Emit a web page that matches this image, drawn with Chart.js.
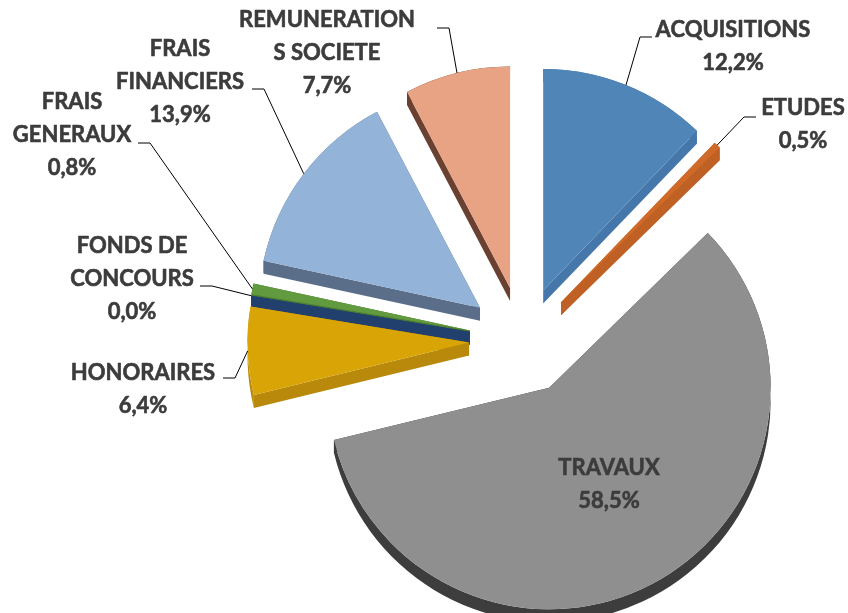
<!DOCTYPE html>
<html>
<head>
<meta charset="utf-8">
<script src="https://cdn.jsdelivr.net/npm/chart.js@4.4.1/dist/chart.umd.min.js"></script>
<style>
  html, body { margin: 0; padding: 0; background: #fff; }
  #chart { display: block; }
</style>
</head>
<body>
<canvas id="chart" width="848" height="613"></canvas>
<script>
// categories, wrapped the way the labels wrap in the picture
var categories = [
    ['ACQUISITIONS'],
    ['ETUDES'],
    ['TRAVAUX'],
    ['HONORAIRES'],
    ['FONDS DE', 'CONCOURS'],
    ['FRAIS', 'GENERAUX'],
    ['FRAIS', 'FINANCIERS'],
    ['REMUNERATION', 'S SOCIETE']
];
// share of total, in %
var values = [12.2, 0.5, 58.5, 6.4, 0.0, 0.8, 13.9, 7.7];
// percentages as printed on the labels
var percentLabels = ['12,2%', '0,5%', '58,5%', '6,4%', '0,0%', '0,8%', '13,9%', '7,7%'];

var topColors = ['#5085b8', '#d06a28', '#8f8f8f', '#d9a506', '#22406e', '#619a3f', '#93b3d8', '#e8a284'];
var sideColors = ['#4677aa', '#bf6024', '#3d3d3d', '#b8890a', '#22406e', '#4c7c30', '#5a6e8a', '#6a4030'];

var explode = 54;   // px each slice is pulled out
var depth = 13;     // px thickness of the 3d pie
var lineH = 33;

// label block centres (first line) and where each leader line leaves the label
var labelPos = [[733, 30], [803, 108], [609, 468], [143, 373], [132, 246], [72, 102], [180, 49], [327, 20]];
var leaderFrom = [[652, 37], [756, 117], null, [223, 378], [200, 286], [138, 143], [252, 89], [437, 28]];

function apexOf(arc) {
    var mid = (arc.startAngle + arc.endAngle) / 2;
    return [arc.x + Math.cos(mid) * explode, arc.y + Math.sin(mid) * explode];
}

function drawWalls(ctx, arc, color) {
    var a = apexOf(arc), r = arc.outerRadius;
    var s = arc.startAngle, e = arc.endAngle;
    ctx.fillStyle = color;
    [s, e].forEach(function(ang) {
        var px = a[0] + Math.cos(ang) * r, py = a[1] + Math.sin(ang) * r;
        ctx.beginPath();
        ctx.moveTo(a[0], a[1]);
        ctx.lineTo(px, py);
        ctx.lineTo(px, py + depth);
        ctx.lineTo(a[0], a[1] + depth);
        ctx.closePath();
        ctx.fill();
    });
    if (e > s) {
        ctx.beginPath();
        ctx.arc(a[0], a[1], r, s, e);
        ctx.arc(a[0], a[1] + depth, r, e, s, true);
        ctx.closePath();
        ctx.fill();
    }
}

var pie3d = {
    id: 'pie3d',
    beforeDatasetsDraw: function(chart) {
        var ctx = chart.ctx;
        var arcs = chart.getDatasetMeta(0).data;
        ctx.save();
        // walls first (last slice first, so the thin ones keep their colour)
        for (var i = arcs.length - 1; i >= 0; i--) {
            drawWalls(ctx, arcs[i], sideColors[i]);
        }
        // then the top faces
        arcs.forEach(function(arc, i) {
            if (arc.endAngle <= arc.startAngle) return;
            var a = apexOf(arc);
            ctx.beginPath();
            ctx.moveTo(a[0], a[1]);
            ctx.arc(a[0], a[1], arc.outerRadius, arc.startAngle, arc.endAngle);
            ctx.closePath();
            ctx.fillStyle = topColors[i];
            ctx.fill();
        });
        ctx.restore();
        return false;
    },
    afterDraw: function(chart) {
        var ctx = chart.ctx;
        var arcs = chart.getDatasetMeta(0).data;
        ctx.save();
        // leader lines
        ctx.strokeStyle = '#000';
        ctx.lineWidth = 1;
        arcs.forEach(function(arc, i) {
            var from = leaderFrom[i];
            if (!from) return;
            var mid = (arc.startAngle + arc.endAngle) / 2;
            var ex = arc.x + Math.cos(mid) * (explode + arc.outerRadius);
            var ey = arc.y + Math.sin(mid) * (explode + arc.outerRadius);
            var dir = ex > from[0] ? 1 : -1;
            ctx.beginPath();
            ctx.moveTo(from[0], from[1]);
            ctx.lineTo(from[0] + dir * 12, from[1]);
            ctx.lineTo(ex, ey);
            ctx.stroke();
        });
        // labels (a thin stroke to get closer to the heavy original face)
        ctx.font = 'bold 22px Lato';
        ctx.fillStyle = '#3c3c3c';
        ctx.strokeStyle = '#3c3c3c';
        ctx.lineWidth = 0.6;
        ctx.lineJoin = 'round';
        ctx.textAlign = 'center';
        ctx.textBaseline = 'middle';
        categories.forEach(function(lines, i) {
            var all = lines.concat([percentLabels[i]]);
            all.forEach(function(t, j) {
                ctx.fillText(t, labelPos[i][0], labelPos[i][1] + j * lineH);
                ctx.strokeText(t, labelPos[i][0], labelPos[i][1] + j * lineH);
            });
        });
        ctx.restore();
    }
};

var ctx = document.getElementById('chart').getContext('2d');
var chart = new Chart(ctx, {
    type: 'pie',
    data: {
        labels: categories,
        datasets: [{
            data: values,
            backgroundColor: topColors,
            borderWidth: 0,
            hoverOffset: 0
        }]
    },
    options: {
        responsive: false,
        animation: false,
        layout: {
            padding: { left: 301, right: 103, top: 119, bottom: 51 }
        },
        plugins: {
            legend: { display: false },
            tooltip: { enabled: false }
        }
    },
    plugins: [pie3d]
});
</script>
</body>
</html>
